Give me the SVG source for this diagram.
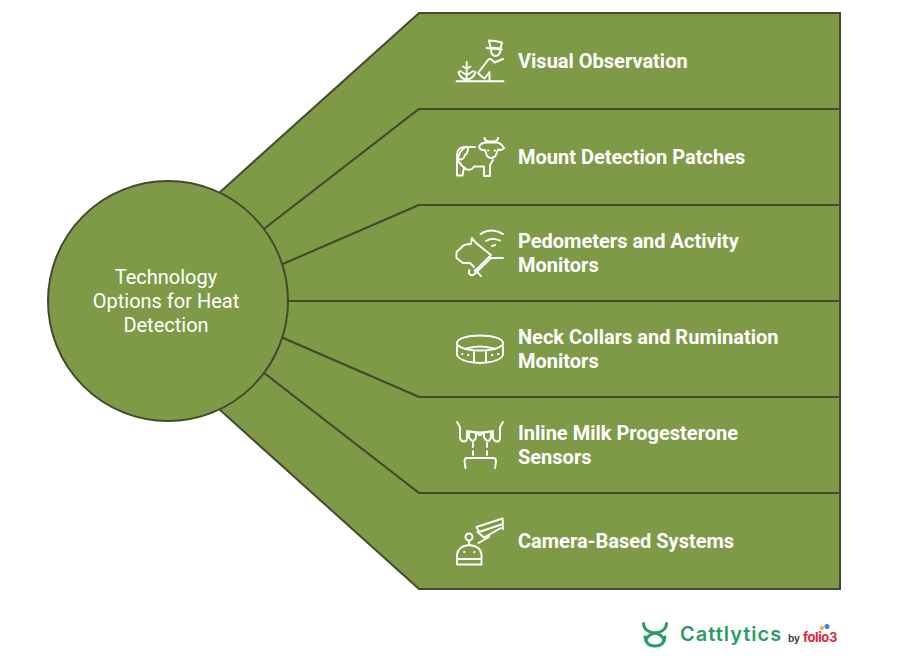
<svg xmlns="http://www.w3.org/2000/svg" width="901" height="670" viewBox="0 0 901 670">
<style>
.seg{fill:#7e9a46;stroke:#45492f;stroke-width:2;stroke-linejoin:miter}
.ic{fill:none;stroke:#fff;stroke-width:1.9;stroke-linecap:round;stroke-linejoin:round}
.lb{font-family:Roboto,"Liberation Sans",sans-serif;font-size:20px;font-weight:700;fill:#fff}
.ct{font-family:Roboto,"Liberation Sans",sans-serif;font-size:20px;fill:#fff;text-anchor:middle}
</style>
<rect width="901" height="670" fill="#fff"/>
<g id="connectors">
<path class="seg" d="M168 301L220 192L419 13H840V109H419L264 229Z"/>
<path class="seg" d="M168 301L264 229L419 109H840V205H419L283 264Z"/>
<path class="seg" d="M168 301L283 264L419 205H840V301H168Z"/>
<path class="seg" d="M168 301H840V397H419L283 338Z"/>
<path class="seg" d="M168 301L283 338L419 397H840V493H419L264 373Z"/>
<path class="seg" d="M168 301L264 373L419 493H840V589H419L220 410Z"/>
</g>
<g id="center"><circle cx="168" cy="301" r="120" fill="#7e9a46" stroke="#45492f" stroke-width="2"/>
<text class="ct" x="166" y="284">Technology</text><text class="ct" x="166" y="308">Options for Heat</text><text class="ct" x="166" y="332">Detection</text></g>
<g id="node-1"><g class="ic">
<path d="M456.500 81.300H503.500M466.700 62V81.300M463 66.500L466.700 69L470.500 66.500M460 71L466.700 75L473.500 71M458.500 72Q459.500 78 466.700 80Q474 78 475.500 72"/>
<path d="M486.500 48L502 49.500M489 40.500Q495 40.500 502 42.500L500.500 48.500L490.500 47.500Z"/><path d="M491.500 48Q490 55 495 56Q500 56 500.500 50"/>
<path d="M489.500 81V72L484.500 78.500Q482 77 478 73L488 60Q490 58 492 60L494.500 62.500L503 59"/></g>
<text class="lb" x="518" y="68">Visual Observation</text></g>
<g id="node-2"><g class="ic">
<path d="M475 147H464Q457 148 457 155V175.500H462.500L464 168Q468 171 472 169L474 166.500H484V176H490V165L493 160"/>
<path d="M484.500 138Q485 141 488 141.500H495Q497.500 141 498 138M479 147Q480 143 486 142.500H497Q501 143 504 148Q502 151 498 149.500L495.500 156Q491 160 487 156L485 150Q481 151 479 147Z"/>
<path d="M466 147Q460 150 458 158Q463 162 465 155Q468 153 468 148M465 168Q461 166 458 160"/><path d="M488 150.500h.5M494.500 150.500h.5"/></g>
<text class="lb" x="518" y="164">Mount Detection Patches</text></g>
<g id="node-3"><g class="ic">
<path d="M480.500 234Q491 227 503 234M486 241Q492 237 500 240.500M492 246L495 245"/>
<path d="M472 238L476 243L491 255L475 271M472 238L471 244Q463 244 461 248L456.500 252V258L463 263H470L474 267"/>
<path d="M491 258H503M481 276L475 270M469.500 270A3 3 0 1 0 474.500 274L491 258"/></g>
<text class="lb" x="518" y="248">Pedometers and Activity</text><text class="lb" x="518" y="272">Monitors</text></g>
<g id="node-4"><g class="ic">
<ellipse cx="480" cy="343" rx="23" ry="7.500"/><path d="M457 343V355Q460 362 480 363Q500 362 503 355V343M465 349Q480 344 495 349"/>
<path d="M474 351.500V362.500M486 351.500V362.500"/><path d="M462 354h.5M468 355h.5M492 355h.5M498 354h.5"/></g>
<text class="lb" x="518" y="344">Neck Collars and Rumination</text><text class="lb" x="518" y="368">Monitors</text></g>
<g id="node-5"><g class="ic">
<path d="M457 422L460 427V438Q461 441.500 464 441.500Q467 441.500 467 438V431Q480 434 493 431V438Q494 441.500 497 441.500Q500 441.500 500 438V427L503 422"/>
<path d="M469 432V437Q471 441 473 441T476 437V433.500M484 433.500V437Q486 441 488 441T491 437V432M478 433.500Q480 437 482 433.500"/>
<path d="M473 443V447M473 451V455M487 443V447M487 451V455"/><path d="M465.500 468L464.500 461Q464.500 458 467 458H493Q496 458 496 461L495 468"/></g>
<text class="lb" x="518" y="440">Inline Milk Progesterone</text><text class="lb" x="518" y="464">Sensors</text></g>
<g id="node-6"><g class="ic">
<path d="M476.500 527L502.500 518.500L503 524L479 532ZM477.500 532L484 537.500L501 528M503 526L503 529M489 535V537L478.500 543"/>
<circle cx="469" cy="537" r="3.500"/><path d="M469 540.500V544M457 564.500V555Q458 546 469 545Q481 546 481.500 555V564.500ZM457 559H481.500"/><path d="M464 552h.5M474 552h.5"/></g>
<text class="lb" x="518" y="548">Camera-Based Systems</text></g>
<g id="logo"><g fill="none" stroke="#2a9d66" stroke-width="3" stroke-linecap="round"><path d="M643.500 623.500Q644 632 655 633Q666 632 666.500 623.500"/><path d="M646 640.500Q647 635 655 633Q663 635 664 640.500"/><path d="M645 637Q646 646 655 646Q664 646 665 637"/></g>
<text x="680" y="641" font-family="Inter,'Liberation Sans',sans-serif" font-size="20" font-weight="600" letter-spacing="1" fill="#2a9d66">Cattlytics</text>
<text x="788" y="642" font-family="Inter,'Liberation Sans',sans-serif" font-size="10" font-weight="600" fill="#333">by</text>
<text x="803" y="642" font-family="Inter,'Liberation Sans',sans-serif" font-size="13" font-weight="700" letter-spacing="-.4" fill="#e0263c">folio3</text>
<circle cx="822" cy="628" r="2" fill="#f4b41a"/><circle cx="827" cy="626.500" r="2.500" fill="#3f83e0"/></g>
</svg>
